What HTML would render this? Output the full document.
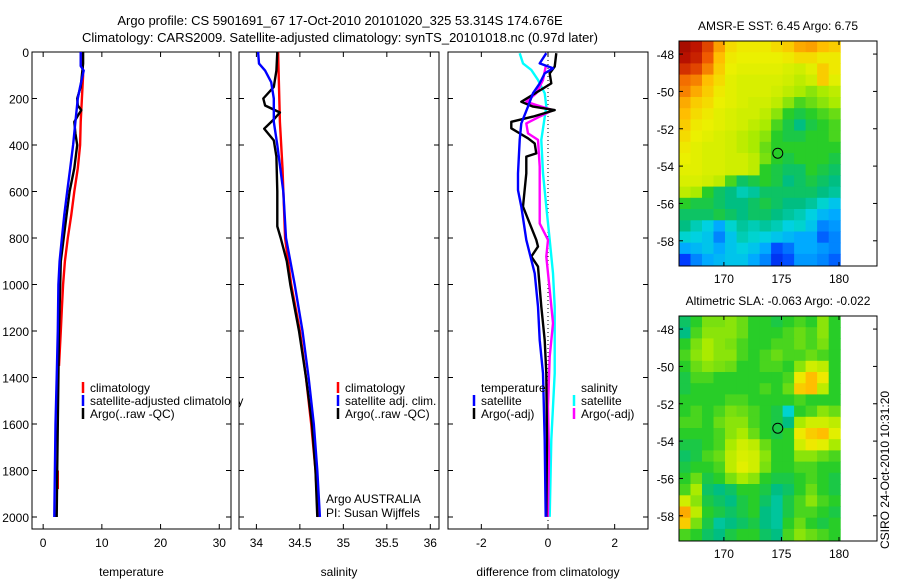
<!DOCTYPE html>
<html><head><meta charset="utf-8"><style>
html,body{margin:0;padding:0;background:#fff}
svg{display:block;font-family:"Liberation Sans",sans-serif}
</style></head><body>
<svg id="fig" width="900" height="580" xmlns="http://www.w3.org/2000/svg">
<text x="340" y="25" font-size="13" text-anchor="middle">Argo profile: CS 5901691_67 17-Oct-2010 20101020_325 53.314S 174.676E</text>
<text x="340" y="42" font-size="13" text-anchor="middle">Climatology: CARS2009. Satellite-adjusted climatology: synTS_20101018.nc (0.97d later)</text>
<text transform="translate(889,470) rotate(-90)" font-size="12" text-anchor="middle">CSIRO 24-Oct-2010 10:31:20</text>
</svg>
<script>
// ---------- DATA ----------
const depthTicks=[0,200,400,600,800,1000,1200,1400,1600,1800,2000];
const tempTicks=[0,10,20,30];
const salTicks=[34,34.5,35,35.5,36];
const salTickLabels=["34","34.5","35","35.5","36"];
const diffTicks=[-2,0,2];
// temperature profiles
const tClimDepth=[0,100,200,300,400,500,600,700,800,900,1000,1100,1200,1300,1350];
const tClimVal=[6.6,6.8,6.6,6.4,6.3,5.9,5.3,4.8,4.2,3.7,3.4,3.2,3.0,2.8,2.7];
const tClimDepth2=[1800,1880];
const tClimVal2=[2.5,2.5];
const tSatDepth=[0,60,80,150,200,300,400,500,600,700,800,900,1000,1200,1400,1600,1800,2000];
const tSatVal=[6.4,6.4,6.9,6.3,5.9,5.5,5.1,4.6,4.1,3.6,3.2,2.8,2.6,2.5,2.3,2.1,2.0,1.9];
const tArgoDepth=[0,50,100,150,200,230,250,270,300,350,400,500,600,700,800,900,1000,1200,1400,1600,1800,2000];
const tArgoVal=[6.8,6.8,6.6,6.4,5.8,5.9,6.5,6.0,5.3,5.5,5.8,5.3,4.5,4.0,3.5,3.0,2.9,2.7,2.6,2.5,2.4,2.3];
// salinity profiles
const sClimDepth=[0,300,500,800,1000,1200,1400,1600,1800,2000];
const sClimVal=[34.25,34.27,34.3,34.33,34.4,34.5,34.57,34.63,34.68,34.71];
const sSatDepth=[0,50,80,130,200,300,400,600,800,1000,1200,1400,1600,1800,2000];
const sSatVal=[34.02,34.03,34.1,34.17,34.2,34.2,34.24,34.31,34.34,34.44,34.53,34.6,34.66,34.7,34.73];
const sArgoDepth=[0,80,150,200,230,260,290,330,380,450,600,750,800,900,1000,1200,1400,1600,1800,2000];
const sArgoVal=[34.24,34.23,34.2,34.08,34.1,34.27,34.2,34.09,34.2,34.23,34.24,34.24,34.28,34.35,34.39,34.49,34.57,34.64,34.68,34.7];
// difference profiles
const dTSatDepth=[5,49,70,92,135,177,235,307,378,522,594,665,808,952,1095,1239,1382,1669,1999];
const dTSatVal=[-0.05,-0.25,0.15,-0.1,-0.25,-0.45,-0.6,-0.8,-0.85,-0.9,-0.9,-0.8,-0.65,-0.4,-0.3,-0.25,-0.15,-0.1,-0.07];
const dTArgoDepth=[5,63,92,135,214,235,250,278,300,328,350,371,393,436,450,522,665,737,808,837,880,923,1095,1239,1382,1669,1999];
const dTArgoVal=[0.25,0.2,0.05,0.1,-0.8,-0.45,0.2,-0.45,-1.1,-1.1,-0.85,-0.6,-0.4,-0.35,-0.65,-0.65,-0.75,-0.55,-0.35,-0.3,-0.5,-0.3,-0.2,-0.1,-0.05,-0.03,-0.05];
const dSSatDepth=[5,49,77,120,177,235,378,522,665,808,952,1095,1382,1669,1999];
const dSSatVal=[-0.85,-0.75,-0.5,-0.3,-0.1,-0.05,-0.2,-0.15,-0.05,0.05,0.15,0.2,0.2,0.1,0.05];
const dSArgoDepth=[63,120,177,214,228,250,278,307,350,378,493,594,737,808,880,1023,1167,1310,1525,1740,1999];
const dSArgoVal=[-0.07,-0.15,-0.35,-0.65,-0.35,0.15,-0.25,-0.65,-0.6,-0.3,-0.25,-0.25,-0.25,0,-0.05,0.05,0.15,0.05,0,0.03,0];
// maps
const lonTicks=[170,175,180];
const latTicks=[-48,-50,-52,-54,-56,-58];
const gridLon0=166.1, gridLat0=-47.3;
const sstGrid=[
[.95,.92,.85,.75,.68,.66,.66,.66,.68,.7,.74,.75,.72,.7],
[.93,.9,.82,.72,.66,.65,.65,.65,.65,.66,.68,.68,.66,.66],
[.88,.85,.78,.7,.65,.64,.64,.64,.64,.63,.62,.64,.7,.66],
[.8,.78,.72,.68,.64,.63,.63,.63,.63,.62,.6,.62,.7,.64],
[.78,.74,.7,.66,.64,.63,.63,.63,.62,.6,.58,.56,.58,.6],
[.74,.7,.68,.65,.64,.63,.62,.62,.6,.56,.52,.54,.56,.58],
[.72,.68,.66,.64,.63,.62,.62,.6,.56,.5,.48,.5,.52,.54],
[.7,.66,.65,.64,.63,.62,.6,.58,.52,.48,.44,.48,.5,.52],
[.68,.65,.64,.63,.62,.6,.58,.56,.5,.48,.48,.5,.5,.52],
[.66,.64,.63,.63,.62,.6,.58,.54,.5,.5,.5,.5,.5,.5],
[.65,.64,.63,.63,.62,.62,.6,.55,.5,.48,.5,.5,.5,.48],
[.64,.64,.63,.63,.62,.62,.6,.5,.48,.46,.46,.5,.48,.46],
[.63,.63,.62,.6,.52,.46,.48,.5,.48,.44,.46,.48,.46,.44],
[.6,.58,.5,.46,.44,.4,.42,.46,.46,.46,.46,.46,.44,.42],
[.5,.48,.48,.46,.44,.44,.46,.48,.46,.44,.44,.42,.38,.34],
[.46,.46,.46,.48,.46,.44,.46,.46,.44,.42,.4,.36,.32,.3],
[.44,.4,.36,.3,.38,.42,.4,.42,.4,.36,.38,.34,.26,.28],
[.38,.36,.34,.26,.34,.4,.38,.36,.34,.32,.3,.3,.22,.26],
[.3,.32,.34,.3,.34,.36,.34,.3,.2,.24,.3,.3,.28,.26],
[.18,.26,.3,.32,.34,.34,.3,.26,.16,.2,.28,.28,.26,.22]];
const slaGrid=[
[.46,.5,.55,.55,.56,.54,.5,.5,.48,.5,.52,.5,.56,.5],
[.44,.52,.56,.56,.56,.54,.5,.5,.5,.52,.54,.52,.56,.5],
[.5,.55,.58,.56,.55,.52,.5,.5,.52,.52,.54,.52,.55,.5],
[.52,.56,.58,.56,.56,.52,.5,.52,.54,.52,.52,.54,.52,.5],
[.5,.54,.56,.55,.54,.5,.5,.52,.52,.5,.56,.62,.6,.5],
[.48,.52,.52,.5,.5,.5,.5,.5,.5,.52,.66,.72,.66,.5],
[.48,.5,.5,.5,.5,.5,.5,.52,.5,.54,.7,.72,.6,.5],
[.5,.5,.5,.5,.52,.52,.5,.5,.5,.5,.52,.5,.5,.5],
[.5,.52,.5,.52,.55,.54,.52,.5,.48,.38,.5,.52,.56,.54],
[.52,.52,.5,.54,.56,.56,.52,.5,.48,.44,.58,.62,.62,.6],
[.5,.5,.5,.52,.56,.58,.54,.5,.48,.5,.66,.7,.72,.64],
[.48,.48,.5,.52,.58,.62,.6,.54,.5,.5,.62,.66,.64,.58],
[.46,.48,.52,.54,.6,.63,.62,.56,.5,.5,.56,.56,.54,.52],
[.48,.5,.5,.52,.6,.64,.62,.55,.5,.5,.52,.52,.5,.5],
[.5,.54,.48,.5,.55,.58,.56,.5,.48,.48,.5,.52,.5,.48],
[.52,.58,.46,.44,.46,.5,.5,.48,.44,.46,.5,.54,.5,.48],
[.62,.56,.48,.46,.44,.48,.5,.46,.42,.48,.52,.56,.52,.5],
[.74,.6,.5,.48,.46,.48,.5,.44,.42,.48,.52,.52,.5,.48],
[.7,.55,.48,.42,.44,.46,.48,.44,.42,.5,.54,.5,.48,.5],
[.52,.5,.46,.44,.48,.5,.5,.46,.44,.52,.56,.54,.52,.5]];
const argoLon=174.68, argoLat=-53.31;

// ---------- DRAWING ----------
const NS="http://www.w3.org/2000/svg";
const svg=document.getElementById('fig');
function mk(tag,attrs,parent){const e=document.createElementNS(NS,tag);for(const k in attrs)e.setAttribute(k,attrs[k]);(parent||svg).appendChild(e);return e;}
function txt(x,y,s,anchor,size,parent){const t=mk('text',{x:x,y:y,'font-size':size||12,'text-anchor':anchor||'start'},parent);t.textContent=s;return t;}
const yTop=52, ySc=0.2325, yBot=529;
const yD=d=>yTop+d*ySc;

function panel(name,x0,x1,xmin,xmax,ticks,labels,title,showY){
  const g=mk('g',{});
  
  
  const sx=v=>x0+(v-xmin)/(xmax-xmin)*(x1-x0);
  const frame=mk('rect',{x:x0,y:yTop,width:x1-x0,height:yBot-yTop,fill:'none',stroke:'#000','stroke-width':1},g);
  
  
  ticks.forEach((t,i)=>{
    const x=sx(t);
    mk('line',{x1:x,x2:x,y1:yBot,y2:yBot-5,stroke:'#000'},g);
    mk('line',{x1:x,x2:x,y1:yTop,y2:yTop+5,stroke:'#000'},g);
    const l=txt(x,547,labels[i],'middle',12,g);
    
    
  });
  depthTicks.forEach(d=>{
    const y=yD(d);
    mk('line',{x1:x0,x2:x0+5,y1:y,y2:y,stroke:'#000'},g);
    mk('line',{x1:x1,x2:x1-5,y1:y,y2:y,stroke:'#000'},g);
    if(showY){const l=txt(x0-3,y+5,String(d),'end',12,g);
      
      }
  });
  const tt=txt((x0+x1)/2,576,title,'middle',12,g);
  
  
  return {g,sx};
}
function line(p,depths,vals,color,name,w){
  const pts=depths.map((d,i)=>p.sx(vals[i]).toFixed(1)+','+yD(d).toFixed(1)).join(' ');
  const pl=mk('polyline',{points:pts,fill:'none',stroke:color,'stroke-width':w||2.4,'stroke-linejoin':'round'},p.g);
  
  
}
function legend(g,x,y,color,label,name){
  const b=mk('line',{x1:x,x2:x,y1:y-10,y2:y+1,stroke:color,'stroke-width':2.5},g);
  
  
  const t=txt(x+7,y,label,'start',12,g);
  
  
}

// Panel 1 temperature
const p1=panel('temperature-panel',32,231,-1.9,32,tempTicks,tempTicks.map(String),'temperature',true);
line(p1,tClimDepth,tClimVal,'#f00','climatology-temp-line');
line(p1,tClimDepth2,tClimVal2,'#f00','climatology-temp-line-deep');
line(p1,tArgoDepth,tArgoVal,'#000','argo-temp-line');
line(p1,tSatDepth,tSatVal,'#00f','satellite-temp-line');
legend(p1.g,83,392,'#f00','climatology','legend-climatology');
legend(p1.g,83,405,'#00f','satellite-adjusted climatology','legend-satellite');
legend(p1.g,83,418,'#000','Argo(..raw -QC)','legend-argo');
mk('rect',{x:231.5,y:380,width:7,height:30,fill:'#fff'});

// Panel 2 salinity
const p2=panel('salinity-panel',239,439,33.8,36.1,salTicks,salTickLabels,'salinity',false);
line(p2,sClimDepth,sClimVal,'#f00','climatology-sal-line');
line(p2,sArgoDepth,sArgoVal,'#000','argo-sal-line');
line(p2,sSatDepth,sSatVal,'#00f','satellite-sal-line');
legend(p2.g,338,392,'#f00','climatology','legend-climatology-sal');
legend(p2.g,338,405,'#00f','satellite adj. clim.','legend-satellite-sal');
legend(p2.g,338,418,'#000','Argo(..raw -QC)','legend-argo-sal');
const a1=txt(326,503,'Argo AUSTRALIA','start',12,p2.g);


const a2=txt(326,517,'PI: Susan Wijffels','start',12,p2.g);



// Panel 3 differences
const p3=panel('difference-panel',448,648,-3,3,diffTicks,diffTicks.map(String),'difference from climatology',false);
const zl=mk('line',{x1:p3.sx(0),x2:p3.sx(0),y1:yTop,y2:yBot,stroke:'#000','stroke-dasharray':'1,3'},p3.g);


line(p3,dSSatDepth,dSSatVal,'#0ff','sal-satellite-diff-line');
line(p3,dSArgoDepth,dSArgoVal,'#f0f','sal-argo-diff-line');
line(p3,dTArgoDepth,dTArgoVal,'#000','temp-argo-diff-line');
line(p3,dTSatDepth,dTSatVal,'#00f','temp-satellite-diff-line');
const lt=txt(481,392,'temperature','start',12,p3.g);


const ls=txt(581,392,'salinity','start',12,p3.g);


legend(p3.g,474,405,'#00f','satellite','legend-temp-satellite');
legend(p3.g,474,418,'#000','Argo(-adj)','legend-temp-argo');
legend(p3.g,574,405,'#0ff','satellite','legend-sal-satellite');
legend(p3.g,574,418,'#f0f','Argo(-adj)','legend-sal-argo');

// colormap
const stops=[[0,[0,0,140]],[0.18,[0,60,255]],[0.3,[0,170,255]],[0.37,[0,215,220]],[0.44,[0,190,130]],[0.5,[40,205,40]],[0.58,[170,235,0]],[0.65,[235,240,0]],[0.72,[255,190,0]],[0.82,[240,90,0]],[0.92,[190,20,0]],[1,[130,0,0]]];
function cmap(v){for(let i=1;i<stops.length;i++){if(v<=stops[i][0]){const a=stops[i-1],b=stops[i];const f=(v-a[0])/(b[0]-a[0]);return 'rgb('+a[1].map((c,k)=>Math.round(c+(b[1][k]-c)*f)).join(',')+')';}}return 'rgb(130,0,0)';}

function mapPanel(name,top,grid,title){
  const g=mk('g',{});
  
  
  const x0=679,x1=877,bottom=top+225;
  const lonMin=166.1,lonMax=183.3,latMax=-47.3,latMin=-59.35;
  const sx=l=>x0+(l-lonMin)/(lonMax-lonMin)*(x1-x0);
  const sy=l=>top+(latMax-l)/(latMax-latMin)*(bottom-top);
  grid.forEach((row,r)=>row.forEach((v,c)=>{
    const xa=sx(gridLon0+c),xb=sx(gridLon0+c+1),ya=sy(gridLat0-r*0.6),yb=sy(gridLat0-(r+1)*0.6);
    const cell=mk('rect',{x:xa.toFixed(1),y:ya.toFixed(1),width:(xb-xa+0.5).toFixed(1),height:(Math.min(yb,bottom)-ya+0.5).toFixed(1),fill:cmap(v)},g);
    
    
  }));
  const fr=mk('rect',{x:x0,y:top,width:x1-x0,height:bottom-top,fill:'none',stroke:'#000'},g);
  
  
  lonTicks.forEach(l=>{const x=sx(l);
    mk('line',{x1:x,x2:x,y1:bottom,y2:bottom-4,stroke:'#000'},g);
    mk('line',{x1:x,x2:x,y1:top,y2:top+4,stroke:'#000'},g);
    const t=txt(x,bottom+17,String(l),'middle',12,g);
    
    });
  latTicks.forEach(l=>{const y=sy(l);
    mk('line',{x1:x0,x2:x0+4,y1:y,y2:y,stroke:'#000'},g);
    mk('line',{x1:x1,x2:x1-4,y1:y,y2:y,stroke:'#000'},g);
    const t=txt(x0-5,y+5,String(l),'end',12,g);
    
    });
  const c=mk('circle',{cx:sx(argoLon),cy:sy(argoLat),r:5,fill:'none',stroke:'#000','stroke-width':1},g);
  
  
  const tt=txt(778,top-11,title,'middle',12,g);
  
  
}
mapPanel('sst-map',41,sstGrid,'AMSR-E SST: 6.45 Argo: 6.75');
mapPanel('sla-map',316,slaGrid,'Altimetric SLA: -0.063 Argo: -0.022');
</script>
</body></html>
